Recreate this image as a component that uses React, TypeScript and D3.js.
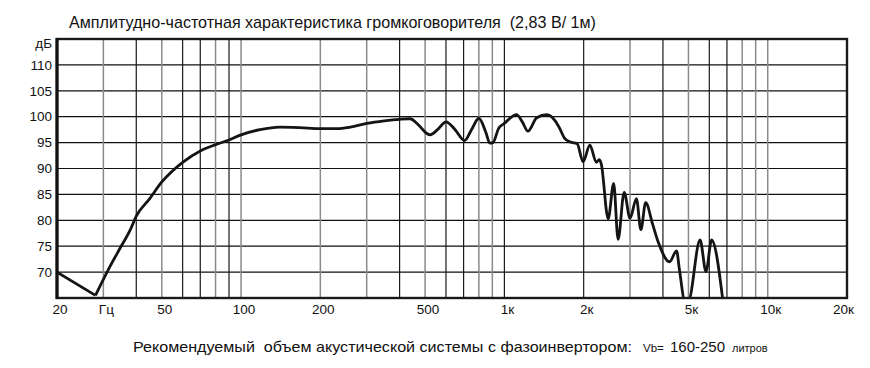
import React from "react";
import * as d3 from "d3";

// АЧХ громкоговорителя, значения
const freqs = [
  20, 28, 31.8, 34.7, 37.9, 40, 45, 50, 60, 70, 80, 90, 100, 118, 140, 167, 200, 231, 260, 300, 350,
  400, 438, 470, 506, 522, 560, 600, 650, 706, 750, 800, 850, 880, 905, 950, 1000, 1112, 1170, 1228,
  1327, 1450, 1554, 1620, 1694, 1780, 1888, 1990, 2112, 2234, 2290, 2330, 2478, 2600, 2702, 2850,
  3000, 3172, 3298, 3440, 3652, 3838, 4240, 4506, 4620, 4844, 5000, 5534, 5830, 6120, 6774,
];
const levels = [
  70, 65.5, 71.1, 74.6, 78.1, 80.8, 84.2, 87.4, 91.2, 93.4, 94.6, 95.5, 96.5, 97.5, 98.0, 97.9, 97.7,
  97.7, 98.0, 98.7, 99.2, 99.5, 99.6, 98.5, 96.8, 96.5, 97.6, 99.0, 97.5, 95.4, 97.5, 99.7, 97.0, 94.9,
  95.0, 97.7, 98.7, 100.4, 99.0, 97.2, 99.8, 100.4, 99.3, 97.8, 95.8, 95.1, 94.8, 91.3, 94.5, 91.2,
  91.7, 91.0, 80.3, 87.1, 76.3, 85.4, 80.4, 84.2, 78.2, 83.4, 79.3, 75.8, 72.0, 74.1, 70.5, 64.5,
  64.5, 76.2, 70.1, 76.2, 64.0,
];

// сетка: частоты и тон линии (true = тёмная)
const gridFreqs = [
  30, 40, 50, 60, 70, 80, 90, 100, 200, 300, 400, 500, 600, 700, 800, 900, 1000, 2000, 3000, 4000,
  5000, 6000, 7000, 8000, 9000, 10000,
];
const gridDark = [
  false, true, false, true, true, false, true, false, false, false, true, false, true, true, false,
  false, true, true, false, true, false, true, true, false, false, false,
];
const dbTicks = [70, 75, 80, 85, 90, 95, 100, 105, 110];
const xTickValues = [20, 30, 50, 100, 200, 500, 1000, 2000, 5000, 10000, 20000];
const xTickLabels = ["20", "Гц", "50", "100", "200", "500", "1к", "2к", "5к", "10к", "20к"];

const W = 870;
const H = 368;
const margin = { top: 39, right: 23, bottom: 70, left: 57 };

export default function App() {
  const x = d3
    .scaleLog()
    .domain([20, 20000])
    .range([margin.left, W - margin.right]);
  const y = d3
    .scaleLinear()
    .domain([65, 115])
    .range([H - margin.bottom, margin.top]);

  const pts: [number, number][] = freqs.map((f, i) => [f, levels[i]]);

  // первый отрезок прямой, остальное сглажено
  const straight = d3
    .line<[number, number]>()
    .x((d) => x(d[0]))
    .y((d) => y(d[1]));
  const smooth = d3
    .line<[number, number]>()
    .x((d) => x(d[0]))
    .y((d) => y(d[1]))
    .curve(d3.curveMonotoneX);

  const x0 = margin.left;
  const x1 = W - margin.right;
  const y0 = margin.top;
  const y1 = H - margin.bottom;
  const font = "'Liberation Sans', Arial, sans-serif";

  return (
    <svg
      width={W}
      height={H}
      style={{ position: "absolute", left: 0, top: 0, background: "#fff" }}
    >
      <defs>
        <clipPath id="plot">
          <rect x={x0} y={y0} width={x1 - x0} height={y1 - y0} />
        </clipPath>
      </defs>

      <text
        x={69}
        y={28}
        fontFamily={font}
        fontSize={16.1}
        fill="#111"
        style={{ whiteSpace: "pre" }}
      >
        {"Амплитудно-частотная характеристика громкоговорителя  (2,83 В/ 1м)"}
      </text>

      {/* горизонтальная сетка */}
      {dbTicks.map((d) => (
        <line key={d} x1={x0} x2={x1} y1={y(d)} y2={y(d)} stroke="#111" strokeWidth={1.2} />
      ))}

      {/* вертикальная сетка */}
      {gridFreqs.map((f, i) => (
        <line
          key={f}
          x1={x(f)}
          x2={x(f)}
          y1={y0}
          y2={y1}
          stroke={gridDark[i] ? "#1a1a1a" : "#8a8a8a"}
          strokeWidth={gridDark[i] ? 1.2 : 1.5}
        />
      ))}

      {/* кривая */}
      <g clipPath="url(#plot)" fill="none" stroke="#141414" strokeWidth={2.8} strokeLinejoin="round">
        <path d={straight(pts.slice(0, 2)) ?? ""} />
        <path d={smooth(pts.slice(1)) ?? ""} />
      </g>

      {/* рамка */}
      <rect x={x0} y={y0} width={x1 - x0} height={y1 - y0} fill="none" stroke="#1a1a1a" strokeWidth={2.4} />
      <line x1={x0} x2={x0} y1={y0 - 1} y2={y1 + 1} stroke="#111" strokeWidth={3.2} />

      {/* подписи по Y */}
      <g fontFamily={font} fontSize={13.5} fill="#111" textAnchor="end">
        <text x={52} y={y(115) + 4} dy="0.35em">
          дБ
        </text>
        {dbTicks.map((d) => (
          <text key={d} x={52} y={y(d)} dy="0.35em">
            {d}
          </text>
        ))}
      </g>

      {/* подписи по X */}
      <g fontFamily={font} fontSize={13.5} fill="#111">
        {xTickValues.map((f, i) => {
          const last = i === xTickValues.length - 1;
          return (
            <text
              key={f}
              x={last ? x(f) + 7 : x(f) + 3}
              y={309}
              dy="0.35em"
              textAnchor={last ? "end" : "middle"}
            >
              {xTickLabels[i]}
            </text>
          );
        })}
      </g>

      <text
        x={133}
        y={352}
        fill="#111"
        style={{ whiteSpace: "pre" }}
        fontFamily="'Liberation Sans Narrow', 'Liberation Sans', Arial, sans-serif"
      >
        <tspan fontSize={15} textLength={499} lengthAdjust="spacingAndGlyphs">
          {"Рекомендуемый  объем акустической системы с фазоинвертором:"}
        </tspan>
        <tspan x={643} fontSize={11.5}>
          Vb=
        </tspan>
        <tspan x={670} fontSize={15}>
          160-250
        </tspan>
        <tspan x={732} fontSize={11}>
          литров
        </tspan>
      </text>
    </svg>
  );
}
